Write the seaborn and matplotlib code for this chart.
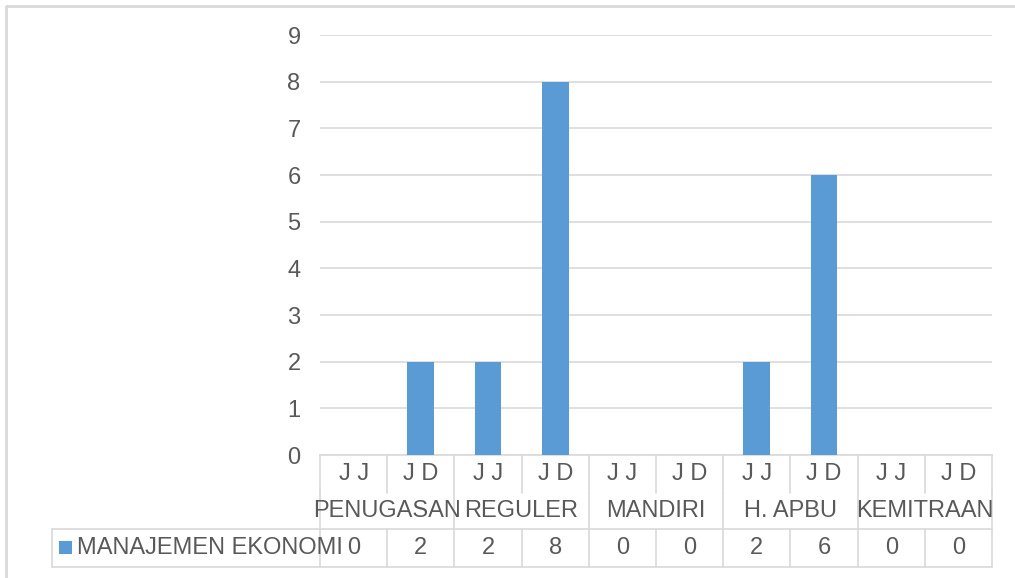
import matplotlib
matplotlib.use("Agg")
import matplotlib.pyplot as plt
import seaborn as sns
import pandas as pd
from matplotlib.transforms import blended_transform_factory
from matplotlib.patches import Rectangle

sns.set_theme(style="white")
plt.rcParams['font.family'] = ['Liberation Sans', 'DejaVu Sans']

# ---- data ----
sub_labels = ["J J", "J D", "J J", "J D", "J J", "J D", "J J", "J D", "J J", "J D"]
groups = ["PENUGASAN", "REGULER", "MANDIRI", "H. APBU", "KEMITRAAN"]
series_name = "MANAJEMEN EKONOMI"
values = [0, 2, 2, 8, 0, 0, 2, 6, 0, 0]

W, H = 1015, 578
fig = plt.figure(figsize=(W / 100, H / 100), dpi=100)

def fx(px):
    return px / W

def fy(py):
    return 1 - py / H

ax_l, ax_r, ax_t, ax_b = 320, 992, 35, 455
ax = fig.add_axes([fx(ax_l), fy(ax_b), fx(ax_r - ax_l), fy(ax_t) - fy(ax_b)])

df = pd.DataFrame({"pos": list(range(len(values))), "value": values})
sns.barplot(data=df, x="pos", y="value", color="#5B9BD5", width=0.4,
            saturation=1, linewidth=0, ax=ax, zorder=3)

grid_c = "#D9D9D9"
text_c = "#595959"
fs = 17

ax.set_xlim(-0.5, len(values) - 0.5)
ax.set_ylim(0, 9)
ax.set_yticks(range(0, 10))
ax.set_yticklabels([str(i) for i in range(0, 10)], fontsize=fs, color=text_c)
ax.tick_params(axis="y", length=0, pad=14)
ax.set_xticks([])
ax.set_xlabel("")
ax.set_ylabel("")
ax.yaxis.grid(True, color=grid_c, linewidth=1.2, zorder=0)
ax.set_axisbelow(True)
for s in ["top", "right", "left"]:
    ax.spines[s].set_visible(False)
ax.spines["bottom"].set_color(grid_c)
ax.spines["bottom"].set_linewidth(1.2)

tr = blended_transform_factory(ax.transData, fig.transFigure)
trf = fig.transFigure

n = len(values)
r0, r1, r2, r3 = 455, 493, 529, 567
lw = 1.2

def vline(x, ya, yb):
    fig.add_artist(plt.Line2D([x, x], [fy(ya), fy(yb)], transform=tr,
                              color=grid_c, lw=lw, clip_on=False))

def hline(xa, xb, y):
    fig.add_artist(plt.Line2D([fx(xa), fx(xb)], [fy(y), fy(y)], transform=trf,
                              color=grid_c, lw=lw, clip_on=False))

# row 1: sub labels
for i in range(n + 1):
    vline(i - 0.5, r0, r1)
for i, lab in enumerate(sub_labels):
    fig.text(i, fy((r0 + r1) / 2), lab, transform=tr, ha="center", va="center",
             fontsize=fs, color=text_c)

# row 2: group labels
for g in range(len(groups) + 1):
    vline(2 * g - 0.5, r1, r2)
for g, lab in enumerate(groups):
    fig.text(2 * g + 0.5, fy((r1 + r2) / 2), lab, transform=tr, ha="center",
             va="center", fontsize=fs, color=text_c)

# row 3: data table
hline(52, ax_r, r2)
hline(52, ax_r, r3)
fig.add_artist(plt.Line2D([fx(52), fx(52)], [fy(r2), fy(r3)], transform=trf,
                          color=grid_c, lw=lw))
for i in range(n + 1):
    vline(i - 0.5, r2, r3)
for i, v in enumerate(values):
    fig.text(i, fy((r2 + r3) / 2), str(v), transform=tr, ha="center",
             va="center", fontsize=fs, color=text_c)

fig.add_artist(Rectangle((fx(59), fy(554)), fx(13), fy(541) - fy(554),
                         transform=trf, facecolor="#5B9BD5", edgecolor="none"))
fig.text(fx(77), fy((r2 + r3) / 2), series_name, ha="left", va="center",
         fontsize=fs, color=text_c)

# chart area border
fig.add_artist(plt.Line2D([fx(6), fx(6), fx(W + 5)], [fy(H + 5), fy(6), fy(6)],
                          transform=trf, color=grid_c, lw=2))

fig.savefig("out.png", dpi=100, facecolor="white")
